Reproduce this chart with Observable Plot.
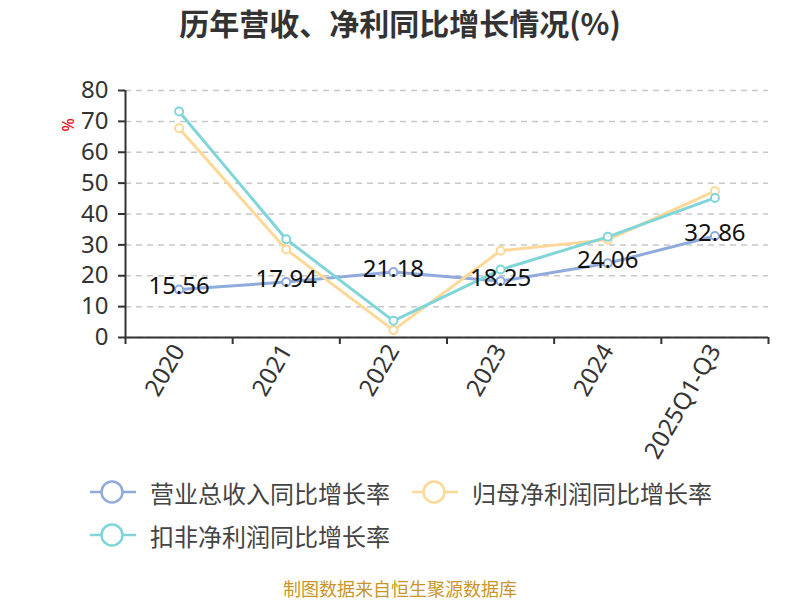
<!DOCTYPE html>
<html>
<head>
<meta charset="utf-8">
<script src="https://cdn.jsdelivr.net/npm/d3@7"></script>
<script src="https://cdn.jsdelivr.net/npm/@observablehq/plot@0.6"></script>
<style>
  html, body { margin: 0; padding: 0; background: #fff; }
  #wrap { position: relative; width: 800px; height: 600px; overflow: hidden; font-family: "Noto Sans CJK SC", "Noto Sans", sans-serif; }
  #title { position: absolute; left: 0; width: 800px; top: 0px; text-align: center; font-size: 30px; font-weight: bold; color: #333; }
  #chart { position: absolute; left: 0; top: 0; }
  .leg { position: absolute; display: flex; align-items: center; font-size: 24px; color: #444; white-space: nowrap; }
  .leg svg { margin-right: 14px; }
  #footer { position: absolute; left: 0; width: 800px; top: 575px; text-align: center; font-size: 18px; color: #c8962a; }
</style>
</head>
<body>
<div id="wrap">
  <div id="chart"></div>
  <div id="title">历年营收、净利同比增长情况(%)</div>
  <div id="legend"></div>
  <div id="footer">制图数据来自恒生聚源数据库</div>
</div>
<script>
const categories = ["2020", "2021", "2022", "2023", "2024", "2025Q1-Q3"];
const revenueGrowth = [15.56, 17.94, 21.18, 18.25, 24.06, 32.86];
const parentProfitGrowth = [67.8, 28.5, 2.4, 28.1, 31.7, 47.4];
const deductedProfitGrowth = [73.2, 31.8, 5.4, 22.0, 32.6, 45.2];
const yTicks = [0, 10, 20, 30, 40, 50, 60, 70, 80];
const seriesNames = ["营业总收入同比增长率", "归母净利润同比增长率", "扣非净利润同比增长率"];
const seriesColors = ["#8fabdc", "#fdd896", "#80d5d8"];

const seriesValues = [revenueGrowth, parentProfitGrowth, deductedProfitGrowth];
const rows = seriesValues.map(vals => vals.map((v, i) => ({i, v})));
const idx = categories.map((_, i) => i);
const bounds = [...idx.map(i => i - 0.5), categories.length - 0.5];

const font = "'Noto Sans', 'Noto Sans CJK SC', sans-serif";

const marks = [
  Plot.gridY(yTicks, {stroke: "#c8c8c8", strokeOpacity: 1, strokeWidth: 1.5, strokeDasharray: "6,5"}),
  Plot.axisY(yTicks, {tickSize: 7, tickPadding: 10, fontSize: 24, fill: "#333", stroke: "#333", strokeWidth: 2, label: null, tickFormat: d => String(d)}),
  Plot.ruleX([-0.5], {stroke: "#333", strokeWidth: 2}),
  Plot.ruleY([0], {stroke: "#333", strokeWidth: 2}),
  Plot.axisX(bounds, {tickSize: 7, tickFormat: () => "", stroke: "#333", strokeWidth: 2, label: null}),
  Plot.axisX(idx, {tickSize: 0, tickPadding: 9, tickRotate: -60, fontSize: 24, fill: "#333", tickFormat: i => categories[i], label: null})
];
rows.forEach((r, k) => {
  marks.push(Plot.line(r, {x: "i", y: "v", stroke: seriesColors[k], strokeWidth: 3}));
  marks.push(Plot.dot(r, {x: "i", y: "v", r: 4, fill: "white", stroke: seriesColors[k], strokeWidth: 2}));
});
marks.push(Plot.text(rows[0], {x: "i", y: "v", text: d => d.v.toFixed(2), fontSize: 24, fill: "#111", dy: -3}));
marks.push(Plot.text(["%"], {frameAnchor: "top-left", dx: -63, dy: 41, rotate: -90, fill: "#e00", fontSize: 16}));

const chart = Plot.plot({
  width: 800,
  height: 470,
  marginLeft: 125,
  marginRight: 32,
  marginTop: 90,
  marginBottom: 133,
  style: {fontFamily: font, background: "transparent", overflow: "visible"},
  x: {type: "linear", domain: [-0.5, categories.length - 0.5]},
  y: {domain: [0, 80]},
  marks
});
document.getElementById("chart").appendChild(chart);

const legendPos = [[90, 492], [412, 492], [90, 535]];
const legend = document.getElementById("legend");
seriesNames.forEach((name, k) => {
  const d = document.createElement("div");
  d.className = "leg";
  d.style.left = legendPos[k][0] + "px";
  d.style.top = (legendPos[k][1] - 16) + "px";
  d.style.height = "32px";
  d.innerHTML = `<svg width="46" height="26" viewBox="0 0 46 26"><line x1="0" y1="13" x2="46" y2="13" stroke="${seriesColors[k]}" stroke-width="2.5"/><circle cx="22" cy="13" r="10.5" fill="white" stroke="${seriesColors[k]}" stroke-width="2.5"/></svg><span>${name}</span>`;
  legend.appendChild(d);
});
</script>
</body>
</html>
